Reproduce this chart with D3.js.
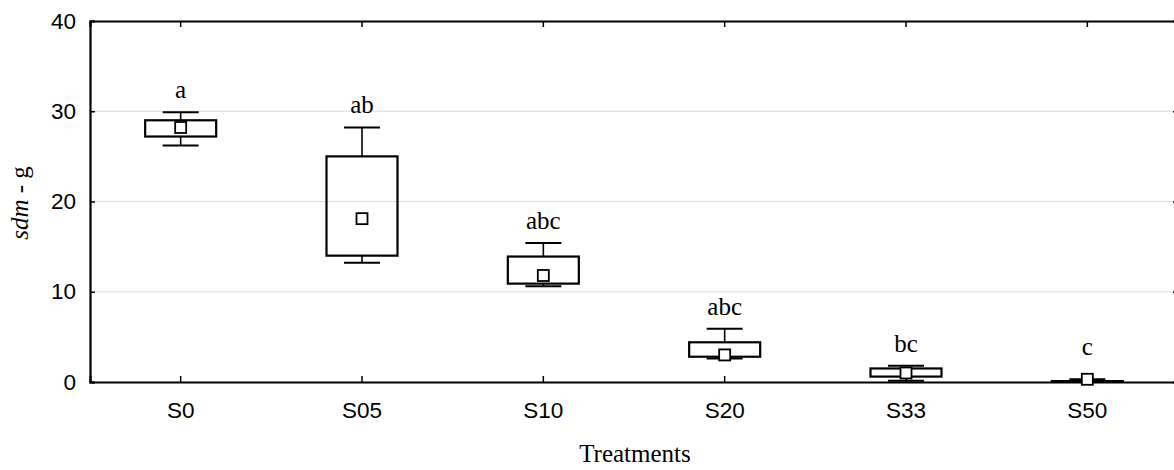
<!DOCTYPE html>
<html>
<head>
<meta charset="utf-8">
<script src="https://cdn.jsdelivr.net/npm/d3@7"></script>
<style>
  body { margin: 0; background: #fff; }
  .axis path, .axis line { stroke: #000; }
</style>
</head>
<body>
<div id="chart"></div>
<script>
// treatments and the values
var treatments = ["S0", "S05", "S10", "S20", "S33", "S50"];
var means      = [28.2, 18.1, 11.8, 3.0, 1.0, 0.3];
var boxLow     = [27.2, 14.0, 10.9, 2.8, 0.6, 0.02];
var boxHigh    = [29.0, 25.0, 13.9, 4.4, 1.5, 0.1];
var whiskLow   = [26.2, 13.2, 10.6, 2.6, 0.15, 0.0];
var whiskHigh  = [29.9, 28.2, 15.4, 5.9, 1.8, 0.3];
var letters    = ["a", "ab", "abc", "abc", "bc", "c"];
var yTicks     = [0, 10, 20, 30, 40];

var margin = {top: 21, right: -4, bottom: 88, left: 90},
    W = 1174, H = 470,
    width = W - margin.left - margin.right,
    height = H - margin.top - margin.bottom;

var svg = d3.select("#chart").append("svg")
    .attr("width", W)
    .attr("height", H);

var g = svg.append("g")
    .attr("transform", "translate(" + margin.left + "," + margin.top + ")");

var x = d3.scaleBand()
    .domain(treatments)
    .range([0, width]);

var y = d3.scaleLinear()
    .domain([0, 40])
    .range([height, 0]);

// grid lines
g.selectAll(".grid")
    .data(yTicks.slice(1, 4))
    .enter().append("line")
    .attr("x1", 0).attr("x2", width)
    .attr("y1", function(d) { return y(d); })
    .attr("y2", function(d) { return y(d); })
    .attr("stroke", "#dcdcdc")
    .attr("stroke-width", 1.2);

// left axis
var yAxis = g.append("g")
    .attr("class", "axis")
    .call(d3.axisLeft(y).tickValues(yTicks).tickSize(-5).tickPadding(14));
yAxis.selectAll("text")
    .style("font-family", "'Liberation Sans', Arial, sans-serif")
    .style("font-size", "22.5px")
    .attr("fill", "#000");

// right axis (ticks only)
g.append("g")
    .attr("class", "axis")
    .attr("transform", "translate(" + width + ",0)")
    .call(d3.axisRight(y).tickValues(yTicks).tickSize(-5).tickFormat(""));

// bottom axis
var xAxis = g.append("g")
    .attr("class", "axis")
    .attr("transform", "translate(0," + height + ")")
    .call(d3.axisBottom(x).tickSize(-6).tickPadding(20));
xAxis.selectAll("text")
    .style("font-family", "'Liberation Sans', Arial, sans-serif")
    .style("font-size", "22.5px")
    .attr("fill", "#000");

// top axis (ticks only)
g.append("g")
    .attr("class", "axis")
    .call(d3.axisTop(x).tickSize(-6).tickFormat(""));

svg.selectAll(".axis path").attr("stroke-width", 2.2);
svg.selectAll(".axis line").attr("stroke-width", 1.5);

// boxes
var boxW = 71, capW = 36, markS = 11;

var boxes = g.selectAll(".box")
    .data(treatments)
    .enter().append("g")
    .attr("class", "box")
    .attr("transform", function(d) {
        return "translate(" + (x(d) + x.bandwidth() / 2) + ",0)";
    });

// whiskers
boxes.append("line")
    .attr("x1", 0).attr("x2", 0)
    .attr("y1", function(d, i) { return y(whiskHigh[i]); })
    .attr("y2", function(d, i) { return y(boxHigh[i]); })
    .attr("stroke", "#000").attr("stroke-width", 1.6);
boxes.append("line")
    .attr("x1", 0).attr("x2", 0)
    .attr("y1", function(d, i) { return y(boxLow[i]); })
    .attr("y2", function(d, i) { return y(whiskLow[i]); })
    .attr("stroke", "#000").attr("stroke-width", 1.6);
boxes.append("line")
    .attr("x1", -capW / 2).attr("x2", capW / 2)
    .attr("y1", function(d, i) { return y(whiskHigh[i]); })
    .attr("y2", function(d, i) { return y(whiskHigh[i]); })
    .attr("stroke", "#000").attr("stroke-width", 2);
boxes.append("line")
    .attr("x1", -capW / 2).attr("x2", capW / 2)
    .attr("y1", function(d, i) { return y(whiskLow[i]); })
    .attr("y2", function(d, i) { return y(whiskLow[i]); })
    .attr("stroke", "#000").attr("stroke-width", 2);

boxes.append("rect")
    .attr("x", -boxW / 2)
    .attr("width", boxW)
    .attr("y", function(d, i) { return y(boxHigh[i]); })
    .attr("height", function(d, i) { return y(boxLow[i]) - y(boxHigh[i]); })
    .attr("fill", "none")
    .attr("stroke", "#000")
    .attr("stroke-width", 2.2);

// mean marker
boxes.append("rect")
    .attr("x", -markS / 2)
    .attr("width", markS)
    .attr("y", function(d, i) { return y(means[i]) - markS / 2; })
    .attr("height", markS)
    .attr("fill", "#fff")
    .attr("stroke", "#000")
    .attr("stroke-width", 1.8);

// significance letters
boxes.append("text")
    .attr("x", 0)
    .attr("y", function(d, i) { return Math.min(y(whiskHigh[i]) - 14, height - 27); })
    .attr("text-anchor", "middle")
    .style("font-family", "'Liberation Serif', 'Times New Roman', serif")
    .style("font-size", "25px")
    .text(function(d, i) { return letters[i]; });

// axis titles
svg.append("text")
    .attr("x", margin.left + 545)
    .attr("y", 462)
    .attr("text-anchor", "middle")
    .style("font-family", "'Liberation Serif', 'Times New Roman', serif")
    .style("font-size", "25px")
    .text("Treatments");

var yl = svg.append("text")
    .attr("transform", "translate(28,203) rotate(-90)")
    .attr("text-anchor", "middle")
    .style("font-family", "'Liberation Serif', 'Times New Roman', serif")
    .style("font-size", "25px");
yl.append("tspan").style("font-style", "italic").text("sdm");
yl.append("tspan").text(" - g");
</script>
</body>
</html>
